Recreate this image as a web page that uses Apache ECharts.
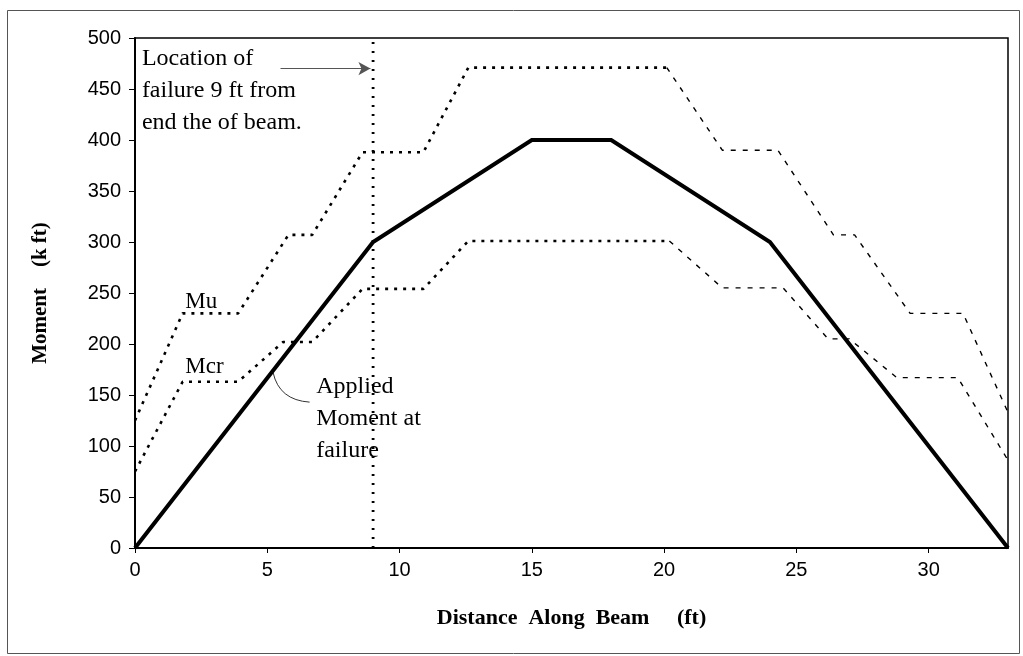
<!DOCTYPE html>
<html>
<head>
<meta charset="utf-8">
<script src="https://cdn.jsdelivr.net/npm/echarts@6/dist/echarts.min.js"></script>
<style>
  html, body { margin: 0; padding: 0; background: #fff; }
  #chart { width: 1023px; height: 656px; }
</style>
</head>
<body>
<div id="chart"></div>
<script>
// applied moment at failure (solid)
const appliedX = [0, 9, 15, 18, 24, 33]
const appliedY = [0, 300, 400, 400, 300, 0]

// ultimate moment capacity Mu
const muX = [0, 1.8, 3.9, 5.8, 6.7, 8.6, 10.9, 12.6, 20.1, 22.2, 24.3, 26.4, 27.2, 29.3, 31.3, 33]
const muY = [125, 230, 230, 307, 307, 388, 388, 471, 471, 390, 390, 307, 307, 230, 230, 133]

// cracking moment Mcr
const mcrX = [0, 1.8, 3.9, 5.6, 6.7, 8.6, 10.9, 12.6, 20.2, 22.2, 24.5, 26.2, 27.0, 28.8, 31.1, 33]
const mcrY = [75, 163, 163, 202, 202, 254, 254, 301, 301, 255, 255, 205, 205, 167, 167, 86]

// failure location
const failureX = 9
const failureSpan = [0, 500]

const xTicks = [0, 5, 10, 15, 20, 25, 30]
const yMin = 0
const yMax = 500
const yStep = 50

const SERIF = '"Liberation Serif", "DejaVu Serif", serif'
const SANS = '"Liberation Sans", Arial, sans-serif'

const pairs = (xs, ys) => xs.map((x, i) => [x, ys[i]])

// left half of the capacity curves is printed as heavy dots, right half as thin dashes
const splitAt = (xs, ys, limit) => {
  const pts = pairs(xs, ys)
  const idx = xs.findIndex(x => x > limit)
  return [pts.slice(0, idx), pts.slice(idx - 1)]
}

const [muLeft, muRight] = splitAt(muX, muY, 20.5)
const [mcrLeft, mcrRight] = splitAt(mcrX, mcrY, 20.5)

const heavyDots = { color: '#000', width: 2.6, type: [3, 6], cap: 'butt' }
const thinDash = { color: '#000', width: 1.4, type: [5, 7], cap: 'butt' }

const lineSeries = (name, data, lineStyle) => ({
  name,
  type: 'line',
  data,
  showSymbol: false,
  symbol: 'none',
  silent: true,
  animation: false,
  lineStyle
})

const chart = echarts.init(document.getElementById('chart'), null, { renderer: 'canvas' })

const option = {
  backgroundColor: '#fff',
  animation: false,
  grid: {
    left: 135,
    right: 15,
    top: 38,
    bottom: 108,
    show: true,
    borderColor: '#000',
    borderWidth: 1.5,
    backgroundColor: '#fff'
  },
  xAxis: {
    type: 'value',
    min: 0,
    max: 33,
    interval: 5,
    name: 'Distance  Along  Beam     (ft)',
    nameLocation: 'middle',
    nameGap: 59,
    nameTextStyle: { fontFamily: SERIF, fontWeight: 'bold', fontSize: 22, color: '#000' },
    splitLine: { show: false },
    axisLine: { lineStyle: { color: '#000', width: 2 } },
    axisTick: { inside: false, length: 5, lineStyle: { color: '#000' } },
    axisLabel: {
      fontFamily: SANS,
      fontSize: 20,
      color: '#000',
      margin: 12,
      showMaxLabel: false,
      formatter: v => (xTicks.includes(v) ? String(v) : '')
    }
  },
  yAxis: {
    type: 'value',
    min: yMin,
    max: yMax,
    interval: yStep,
    name: 'Moment    (k ft)',
    nameLocation: 'middle',
    nameRotate: 90,
    nameGap: 84,
    nameTextStyle: { fontFamily: SERIF, fontWeight: 'bold', fontSize: 21, color: '#000' },
    splitLine: { show: false },
    axisLine: { lineStyle: { color: '#000', width: 2 } },
    axisTick: { inside: false, length: 6, lineStyle: { color: '#000' } },
    axisLabel: { fontFamily: SANS, fontSize: 20, color: '#000', margin: 14 }
  },
  series: [
    lineSeries('failure line', [[failureX, failureSpan[0]], [failureX, failureSpan[1]]],
      { color: '#000', width: 2.8, type: [2, 7], cap: 'butt' }),
    lineSeries('Mu', muLeft, heavyDots),
    lineSeries('Mu ', muRight, thinDash),
    lineSeries('Mcr', mcrLeft, heavyDots),
    lineSeries('Mcr ', mcrRight, thinDash),
    {
      ...lineSeries('Applied', pairs(appliedX, appliedY), { color: '#000', width: 4, join: 'miter' }),
      markLine: {
        silent: true,
        symbol: ['none', 'arrow'],
        symbolSize: [10, 12],
        label: { show: false },
        lineStyle: { color: '#555', width: 1, type: 'solid' },
        data: [[{ coord: [5.5, 470] }, { coord: [8.9, 470] }]]
      }
    }
  ]
}

chart.setOption(option)

// annotations placed in data coordinates
const px = (x, y) => chart.convertToPixel({ gridIndex: 0 }, [x, y])
const note = (x, y, text, size) => {
  const p = px(x, y)
  return {
    type: 'text',
    x: p[0],
    y: p[1],
    silent: true,
    style: {
      text,
      fill: '#000',
      font: `${size}px ${SERIF}`,
      lineHeight: 32,
      textAlign: 'left',
      textVerticalAlign: 'top'
    }
  }
}

const c0 = px(5.22, 172)
const c1 = px(5.45, 145)
const c2 = px(6.6, 143)

chart.setOption({
  graphic: [
    {
      type: 'rect',
      silent: true,
      shape: { x: 7.5, y: 10.5, width: 1012, height: 643 },
      style: { fill: 'none', stroke: '#555', lineWidth: 1 }
    },
    note(0.26, 495, 'Location of\nfailure 9 ft from\nend the of beam.', 24),
    note(1.9, 257, 'Mu', 23),
    note(1.9, 193, 'Mcr', 23),
    note(6.85, 174, 'Applied\nMoment at\nfailure', 24),
    {
      type: 'bezierCurve',
      silent: true,
      shape: { x1: c0[0], y1: c0[1], cpx1: c1[0], cpy1: c1[1], x2: c2[0], y2: c2[1] },
      style: { stroke: '#333', lineWidth: 1, fill: 'none' }
    }
  ]
})

window.addEventListener('resize', () => chart.resize())
</script>
</body>
</html>
